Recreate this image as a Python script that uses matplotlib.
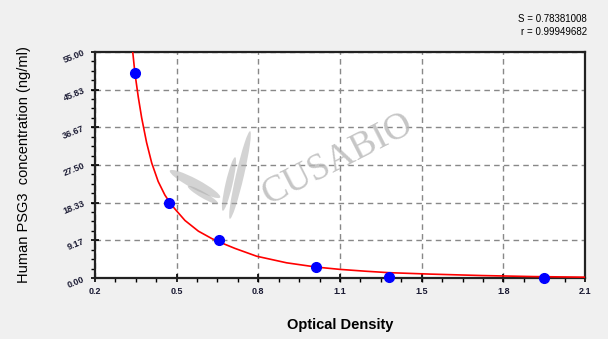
import matplotlib
matplotlib.use("Agg")
import matplotlib.pyplot as plt
from matplotlib.patches import Ellipse
from matplotlib.ticker import AutoMinorLocator

# standard points (optical density vs concentration)
od = [0.355, 0.487, 0.679, 1.057, 1.340, 1.941]
conc = [49.8, 18.3, 9.2, 2.75, 0.25, 0.07]

# fitted curve
curve_od = [0.345, 0.355, 0.368, 0.381, 0.400, 0.420, 0.445, 0.471, 0.491,
            0.510, 0.549, 0.601, 0.653, 0.704, 0.743, 0.827, 0.943, 1.060,
            1.150, 1.250, 1.340, 1.500, 1.700, 1.900, 2.100]
curve_conc = [55.9, 49.8, 44.0, 39.0, 33.0, 28.0, 23.5, 20.2, 18.3,
              16.8, 14.0, 11.4, 9.6, 8.2, 7.2, 5.3, 3.7, 2.65,
              2.1, 1.65, 1.3, 0.95, 0.6, 0.35, 0.2]

xticks = [0.2, 0.5167, 0.8333, 1.15, 1.4667, 1.7833, 2.1]
xticklabels = ["0.2", "0.5", "0.8", "1.1", "1.5", "1.8", "2.1"]
yticks = [0.0, 9.17, 18.33, 27.50, 36.67, 45.83, 55.00]
yticklabels = ["0.00", "9.17", "18.33", "27.50", "36.67", "45.83", "55.00"]

stats = ["S = 0.78381008", "r = 0.99949682"]

plt.rcParams["font.family"] = ["Liberation Sans", "DejaVu Sans"]

fig = plt.figure(figsize=(6.08, 3.39), dpi=100)
fig.patch.set_facecolor("#f0f0f0")
ax = fig.add_axes([0.1562, 0.1799, 0.806, 0.6667])
ax.set_facecolor("white")

ax.set_xlim(0.2, 2.1)
ax.set_ylim(0, 55)

ax.set_xticks(xticks)
ax.set_xticklabels(xticklabels, fontsize=6.5, fontweight="bold", color="#1a1a33")
ax.set_yticks(yticks)
ax.set_yticklabels(yticklabels, fontsize=6.5, fontweight="bold", color="#1a1a33",
                   rotation=22)
ax.xaxis.set_minor_locator(AutoMinorLocator(4))
ax.yaxis.set_minor_locator(AutoMinorLocator(4))
ax.tick_params(which="major", direction="inout", length=6, width=1.2)
ax.tick_params(which="minor", direction="out", length=3, width=1.0)

ax.grid(True, which="major", linestyle=(0, (4, 3)), color="#888888", linewidth=1.0)
ax.set_axisbelow(True)
for side in ax.spines.values():
    side.set_linewidth(1.6)
    side.set_color("#222222")

# watermark: text plus a rough version of the logo strokes (sizes in pixels / 100)
fig.text(0.556, 0.531, "CUSABIO", fontsize=27, family="Liberation Serif",
         color="#b8b8b8", alpha=0.8, rotation=27, ha="center", va="center", zorder=1)
H = 3.39
for (cx, cy, w, h, ang) in [(240, 175, 8, 90, -13),
                            (229, 184, 7, 55, -13),
                            (195, 184, 57, 10, -28),
                            (203, 195, 35, 6, -30)]:
    fig.patches.append(Ellipse((cx / 100, H - cy / 100), w / 100, h / 100, angle=ang,
                               transform=fig.dpi_scale_trans,
                               facecolor="#a8a8a8", edgecolor="none", alpha=0.5))

ax.plot(curve_od, curve_conc, color="red", linewidth=1.2, zorder=3)
ax.plot(od, conc, "o", color="blue", markersize=7, zorder=4, clip_on=False)

ax.set_xlabel("Optical Density", fontsize=10.5, fontweight="bold", labelpad=16)
ax.set_ylabel("Human PSG3  concentration (ng/ml)", fontsize=10.5, labelpad=22)

fig.text(0.965, 0.945, stats[0], fontsize=7, ha="right", va="center")
fig.text(0.965, 0.905, stats[1], fontsize=7, ha="right", va="center")

fig.savefig("out.png", dpi=100, facecolor=fig.get_facecolor())
